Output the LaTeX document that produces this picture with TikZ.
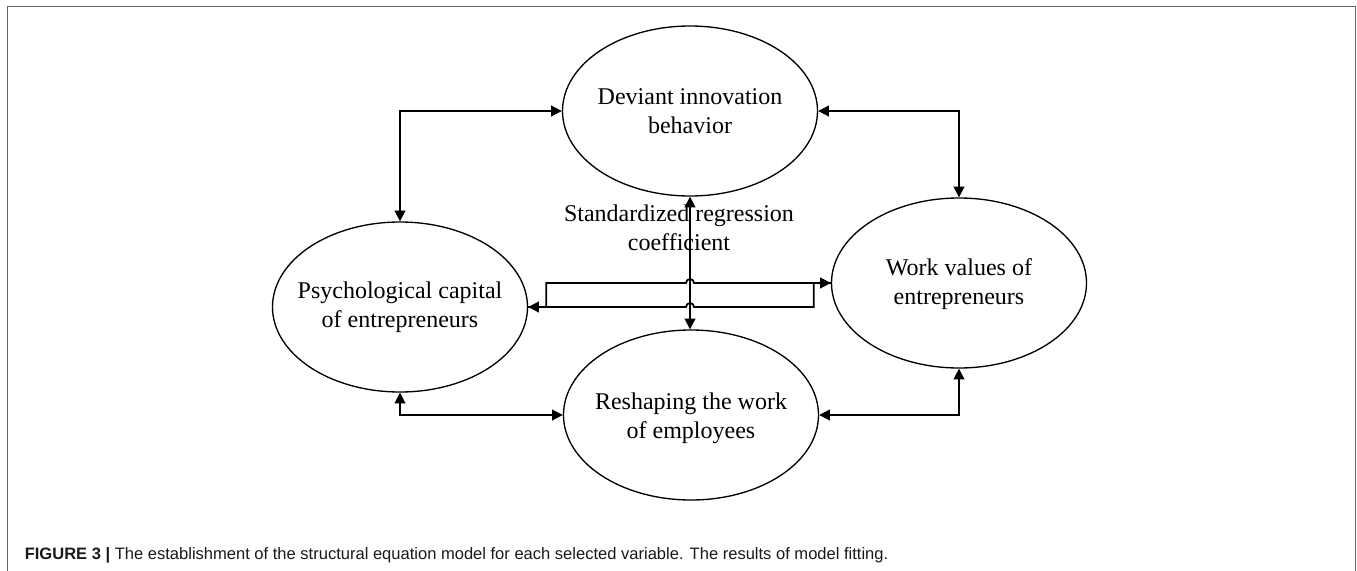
\documentclass[tikz,border=0pt]{standalone}
\usepackage{fontspec}
\setmainfont{Liberation Serif}
\newfontfamily\capfont{Liberation Sans}
\usetikzlibrary{arrows.meta,calc,shapes.geometric}
\tikzset{
  ell/.style={draw, line width=1pt, ellipse, minimum width=191.25pt, minimum height=127.5pt, inner sep=0pt},
  lbl/.style={align=center, font=\fontsize{18pt}{22pt}\selectfont, inner sep=0pt},
  conn/.style={line width=1.3pt, {Triangle[length=8pt,width=8pt]}-{Triangle[length=8pt,width=8pt]}},
  plain/.style={line width=1.3pt},
}
\begin{document}
\begin{tikzpicture}[x=0.75pt,y=-0.75pt]
\useasboundingbox (0,0) rectangle (1357,571);
\clip (0,0) rectangle (1357,571);
\draw[line width=1.1pt, color=black!60] (7.5,590) -- (7.5,6.5) -- (1355.5,6.5) -- (1355.5,590);

\node[ell] (T) at (690,111) {};
\node[ell] (L) at (400,307) {};
\node[ell] (R) at (959,283) {};
\node[ell] (B) at (691,415) {};

\node[lbl] (Tt) at (690,111) {Deviant innovation\\behavior};
\node[lbl] (Lt) at (400,307) {Psychological capital\\of entrepreneurs};
\node[lbl] (Rt) at (959,284) {Work values of\\entrepreneurs};
\node[lbl] (Bt) at (691,418) {Reshaping the work\\of employees};
\node[lbl] (S) at (679,228) {Standardized regression\\coefficient};

\draw[conn] (L.north) |- (T);
\draw[conn] (R.north) |- (T);
\draw[conn] (L.south) |- (B);
\draw[conn] (R.south) |- (B);
\draw[conn] (T.south) -- (T.south |- B.north);

\draw[conn] (L.east) -- ($(T.south|-L.east)+(-4,0)$) arc[start angle=180,end angle=0,radius=3pt]
  -- ($(R.west|-L.east)+(-17,0)$) |- (R.west);
\draw[plain] (R.west) -- ($(T.south|-R.west)+(4,0)$) arc[start angle=0,end angle=180,radius=3pt]
  -- ($(L.east|-R.west)+(18,0)$) |- (L.east);

\node[anchor=base west, inner sep=0pt, font=\capfont\fontsize{12.4pt}{15pt}\selectfont, text=black!90] (cap) at (24.5,559)
  {\textbf{FIGURE 3 |} The establishment of the structural equation model for each selected variable. The results of model fitting.};
\end{tikzpicture}
\end{document}
